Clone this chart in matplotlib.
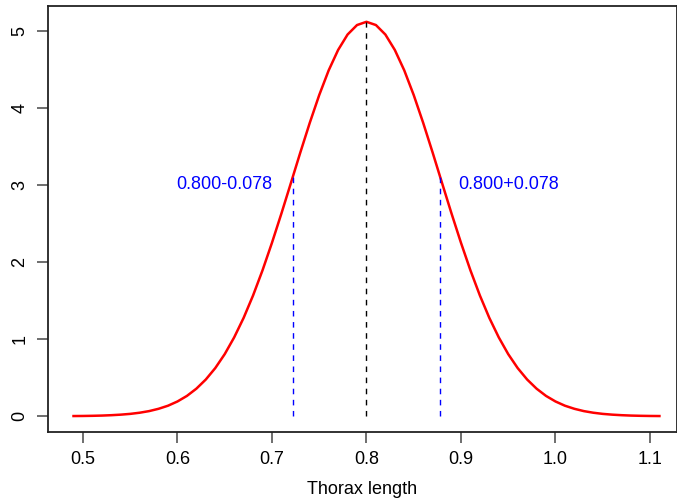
import matplotlib.pyplot as plt

plt.rcParams['font.family'] = ['Liberation Sans', 'DejaVu Sans']

# density of thorax length (mean 0.800, sd 0.078)
x_vals = [0.49, 0.50, 0.51, 0.52, 0.53, 0.54, 0.55, 0.56, 0.57, 0.58,
          0.59, 0.60, 0.61, 0.62, 0.63, 0.64, 0.65, 0.66, 0.67, 0.68,
          0.69, 0.70, 0.71, 0.72, 0.73, 0.74, 0.75, 0.76, 0.77, 0.78,
          0.79, 0.80, 0.81, 0.82, 0.83, 0.84, 0.85, 0.86, 0.87, 0.88,
          0.89, 0.90, 0.91, 0.92, 0.93, 0.94, 0.95, 0.96, 0.97, 0.98,
          0.99, 1.00, 1.01, 1.02, 1.03, 1.04, 1.05, 1.06, 1.07, 1.08,
          1.09, 1.10, 1.11]
half = [5.115, 5.073, 4.950, 4.750, 4.485, 4.165, 3.805, 3.420, 3.023,
        2.629, 2.249, 1.892, 1.566, 1.275, 1.022, 0.805, 0.624, 0.476,
        0.357, 0.263, 0.191, 0.136, 0.096, 0.066, 0.045, 0.030, 0.020,
        0.013, 0.008, 0.005, 0.003, 0.002]
y_vals = half[::-1] + half[1:]

mean = 0.800
sd = 0.078
peak = 5.115
dens_at_sd = 3.10
labels = ['0.800-0.078', '0.800+0.078']
label_x = [0.65, 0.95]
label_y = 3.0

fig = plt.figure(figsize=(6.77, 4.98), dpi=100)
ax = fig.add_axes([48 / 677, 66 / 498, 629 / 677, 426 / 498])

ax.plot(x_vals, y_vals, color='red', lw=1.8)
ax.plot([mean, mean], [0, peak], color='black', ls=(0, (4, 4)), lw=1)
ax.plot([mean - sd, mean - sd], [0, dens_at_sd], color='blue', ls=(0, (4, 4)), lw=1)
ax.plot([mean + sd, mean + sd], [0, dens_at_sd], color='blue', ls=(0, (4, 4)), lw=1)

for lx, lab in zip(label_x, labels):
    ax.text(lx, label_y, lab, color='blue', fontsize=13, ha='center', va='center')

ax.set_xlim(0.463, 1.1286)
ax.set_ylim(-0.205, 5.32)
ax.set_xticks([0.5, 0.6, 0.7, 0.8, 0.9, 1.0, 1.1])
ax.set_yticks([0, 1, 2, 3, 4, 5])
ax.tick_params(direction='out', length=8, width=1.2, color='#555555',
               labelsize=13, pad=6)
plt.setp(ax.get_yticklabels(), rotation=90, va='center')
ax.set_xlabel('Thorax length', fontsize=13, labelpad=9)
for s in ax.spines.values():
    s.set_linewidth(1.3)
    s.set_color('#222222')

fig.savefig('out.png', dpi=100)
